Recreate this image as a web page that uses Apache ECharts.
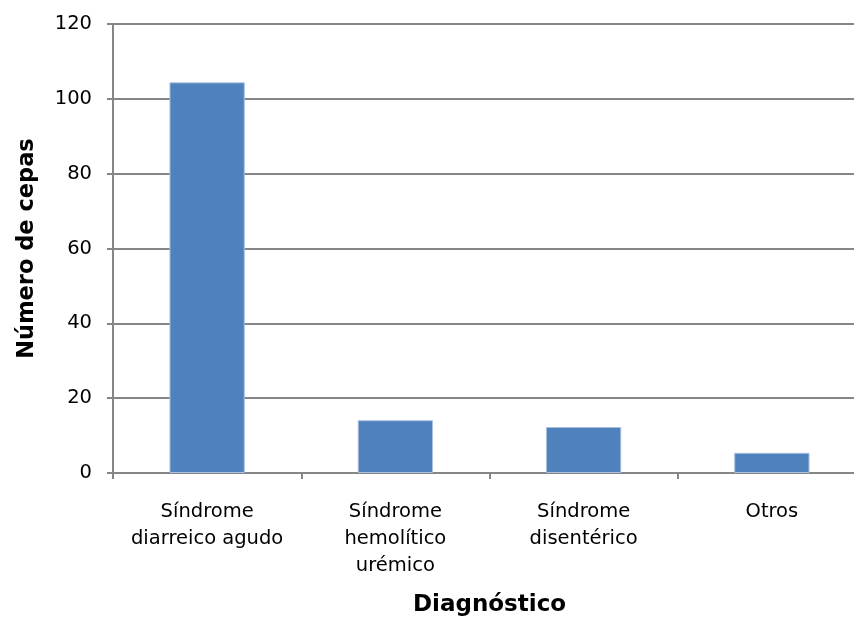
<!DOCTYPE html>
<html>
<head>
<meta charset="utf-8">
<script src="https://cdn.jsdelivr.net/npm/echarts@6/dist/echarts.min.js"></script>
<style>
  html, body { margin: 0; padding: 0; background: #ffffff; overflow: hidden; }
  #chart { width: 854px; height: 619px; }
</style>
</head>
<body>
<div id="chart"></div>
<script>
// Strains by clinical diagnosis
const categories = ['Síndrome\ndiarreico agudo', 'Síndrome\nhemolítico\nurémico', 'Síndrome\ndisentérico', 'Otros'];
const cepas = [104.4, 14.1, 12.3, 5.4];
const yTicks = { min: 0, max: 120, interval: 20 };

const font = 'DejaVu Sans, Verdana, sans-serif';
const gray = '#868686';

const chart = echarts.init(document.getElementById('chart'), null, { renderer: 'canvas' });
chart.setOption({
  animation: false,
  grid: {
    left: 113, right: -12, top: 24, bottom: 146,
    containLabel: false,
    outerBoundsMode: 'none'
  },
  xAxis: {
    type: 'category',
    data: categories,
    name: 'Diagnóstico',
    nameLocation: 'middle',
    nameGap: 121,
    nameTextStyle: { fontFamily: font, fontSize: 23, fontWeight: 'bold', color: '#000' },
    axisLine: { lineStyle: { color: gray, width: 2 } },
    axisTick: { show: true, length: 6, lineStyle: { color: gray, width: 2 } },
    axisLabel: { margin: 25, fontFamily: font, fontSize: 19.5, color: '#000', lineHeight: 27, interval: 0 },
    splitLine: { show: false }
  },
  yAxis: {
    type: 'value',
    min: yTicks.min, max: yTicks.max, interval: yTicks.interval,
    name: 'Número de cepas',
    nameLocation: 'middle',
    nameGap: 86,
    nameRotate: 90,
    nameTextStyle: { fontFamily: font, fontSize: 22.5, fontWeight: 'bold', color: '#000', verticalAlign: 'middle' },
    axisLine: { show: true, lineStyle: { color: gray, width: 2 } },
    axisTick: { show: true, length: 6, lineStyle: { color: gray, width: 2 } },
    axisLabel: { margin: 21, fontFamily: font, fontSize: 19.5, color: '#000' },
    splitLine: { lineStyle: { color: gray, width: 2 } }
  },
  series: [{
    type: 'bar',
    data: cepas,
    barWidth: '40%',
    itemStyle: { color: '#4f81bd', borderColor: '#a9c0df', borderWidth: 1 }
  }]
});
</script>
</body>
</html>
